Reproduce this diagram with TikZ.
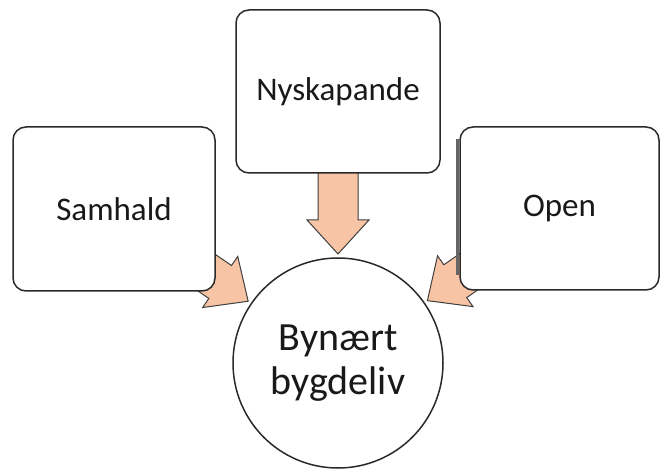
\documentclass[tikz,border=0pt]{standalone}
\usepackage{fontspec}
\setmainfont{Carlito}
\usetikzlibrary{calc,backgrounds}
\definecolor{peach}{HTML}{F7C4A5}
\definecolor{edge}{HTML}{2A2A2A}
\tikzset{
  box/.style={draw=edge, line width=1.5pt, rounded corners=13pt, fill=white,
    inner sep=0pt, font=\fontsize{33}{40}\selectfont, text=black!90},
  hub/.style={circle, draw=edge, line width=1.5pt, fill=white, inner sep=0pt,
    minimum size=210pt, align=center, font=\fontsize{40}{46}\selectfont, text=black!90},
  barrow/.style={draw=edge!90, line width=1pt, fill=peach, line join=miter},
  seam/.style={draw=black!60, line width=2.5pt}
}
\newcommand{\blockarrow}[2]{%
  \coordinate (T) at ($(#2.center)!109pt!(#1.center)$);
  \coordinate (H) at ($(T)!34pt!(#1.center)$);
  \path[barrow] (T) -- ($(H)!31pt!90:(T)$) -- ($(H)!20pt!90:(T)$)
    -- ($(#1.center)!20pt!90:(T)$) -- ($(#1.center)!20pt!-90:(T)$)
    -- ($(H)!20pt!-90:(T)$) -- ($(H)!31pt!-90:(T)$) -- cycle;
}
\begin{document}
\begin{tikzpicture}[x=1pt,y=-1pt]
\useasboundingbox (0,0) rectangle (661,470);
\node[box, minimum width=202pt, minimum height=164pt] (sam) at (114,209) {Samhald};
\node[box, minimum width=204pt, minimum height=163pt] (nys) at (338,91.5) {Nyskapande};
\node[box, minimum width=199pt, minimum height=163pt] (open) at (559.5,208.5) {Open};
\node[hub] (circ) at (338,363) {Bynært\\[-2pt]bygdeliv};
\draw[seam] ($(open.north west)+(-2,13)$) -- ($(open.south west)+(-2,-16)$);
\begin{scope}[on background layer]
  \blockarrow{sam}{circ}
  \blockarrow{nys}{circ}
  \blockarrow{open}{circ}
\end{scope}
\end{tikzpicture}
\end{document}
